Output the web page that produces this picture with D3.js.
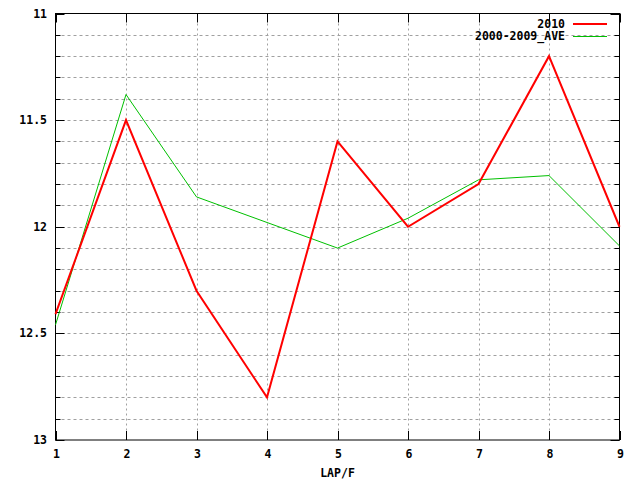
<!DOCTYPE html>
<html><head><meta charset="utf-8">
<script src="https://cdn.jsdelivr.net/npm/d3@7"></script>
<style>body{margin:0;background:#fff}svg{display:block}text{font-family:"DejaVu Sans Mono",monospace;font-weight:bold;font-size:11.5px;fill:#000}</style>
</head><body><svg id="c" width="640" height="480"></svg>
<script>
const laps = [1,2,3,4,5,6,7,8,9];
const series2010 = [12.41,11.5,12.3,12.8,11.6,12.0,11.8,11.2,12.0];
const seriesAve = [12.46,11.38,11.86,11.98,12.1,11.96,11.78,11.76,12.09];
const yTicks = [11,11.5,12,12.5,13];
const seriesNames = ["2010","2000-2009_AVE"];
const seriesColors = ["#ff0000","#00c000"];

const svg = d3.select("#c");
const L=55.5,R=619.5,T=13.5,B=440;
const x = d3.scaleLinear().domain([1,9]).range([L,R]);
const y = d3.scaleLinear().domain([11,13]).range([T,B]);
const minor = d3.range(0,21).map(i=>11+i*0.1);

const g = svg.append("g");
g.selectAll(".hg").data(minor.filter(v=>v>11.001&&v<12.999)).enter().append("line")
 .attr("x1",L).attr("x2",R).attr("y1",d=>Math.round(y(d))+0.5).attr("y2",d=>Math.round(y(d))+0.5)
 .attr("stroke","#a0a0a0").attr("stroke-dasharray","3,3");
g.selectAll(".vg").data(laps.filter(v=>v>1&&v<9)).enter().append("line")
 .attr("y1",T).attr("y2",B).attr("x1",d=>Math.round(x(d))+0.5).attr("x2",d=>Math.round(x(d))+0.5)
 .attr("stroke","#a0a0a0").attr("stroke-dasharray","2,3");
minor.forEach(v=>{
  const len = yTicks.some(t=>Math.abs(t-v)<1e-6)?9:5;
  const yy=Math.round(y(v))+0.5;
  g.append("line").attr("x1",L).attr("x2",L+len).attr("y1",yy).attr("y2",yy).attr("stroke","#000");
  g.append("line").attr("x1",R-len).attr("x2",R).attr("y1",yy).attr("y2",yy).attr("stroke","#000");
});
laps.forEach(v=>{
  const xx=Math.round(x(v))+0.5;
  g.append("line").attr("x1",xx).attr("x2",xx).attr("y1",B).attr("y2",B-9).attr("stroke","#000");
  g.append("line").attr("x1",xx).attr("x2",xx).attr("y1",T).attr("y2",T+9).attr("stroke","#000");
});
g.append("rect").attr("x",L).attr("y",T).attr("width",R-L).attr("height",B-T)
 .attr("fill","none").attr("stroke","#000");
svg.selectAll(".yl").data(yTicks).enter().append("text")
 .attr("x",47).attr("y",d=>y(d)).attr("dy","0.35em").attr("text-anchor","end").text(d=>d);
svg.selectAll(".xl").data(laps).enter().append("text")
 .attr("x",d=>x(d)+1).attr("y",454).attr("dy","0.35em").attr("text-anchor","middle").text(d=>d);
svg.append("text").attr("x",(L+R)/2).attr("y",473).attr("dy","0.35em").attr("text-anchor","middle").text("LAP/F");
const line = d3.line().x((d,i)=>x(laps[i])).y(d=>y(d));
svg.append("path").datum(seriesAve).attr("d",line).attr("fill","none")
 .attr("stroke",seriesColors[1]).attr("stroke-width",1);
svg.append("path").datum(series2010).attr("d",line).attr("fill","none")
 .attr("stroke",seriesColors[0]).attr("stroke-width",2);
seriesNames.forEach((n,i)=>{
  const yy=24+i*12.5;
  svg.append("text").attr("x",565).attr("y",yy).attr("dy","0.33em").attr("text-anchor","end").text(n);
  svg.append("line").attr("x1",573).attr("x2",607).attr("y1",yy).attr("y2",yy)
   .attr("stroke",seriesColors[i]).attr("stroke-width",i===0?2:1);
});
</script></body></html>
